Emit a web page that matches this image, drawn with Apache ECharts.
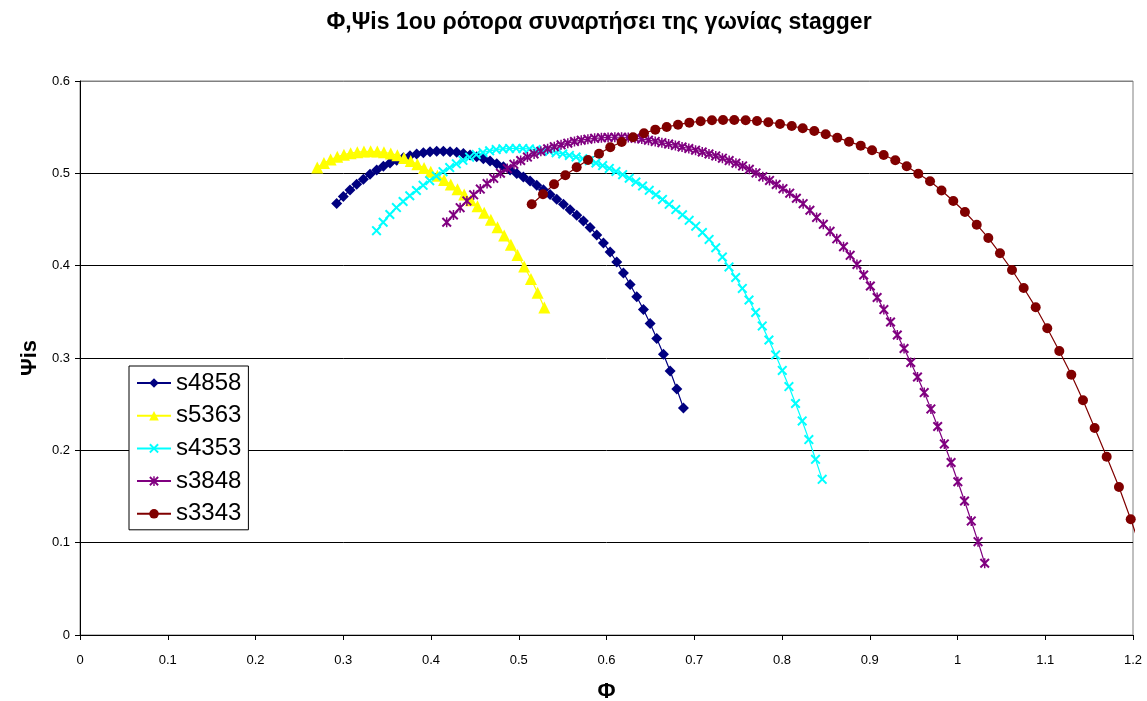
<!DOCTYPE html>
<html>
<head>
<meta charset="utf-8">
<script src="https://cdn.jsdelivr.net/npm/echarts@6/dist/echarts.min.js"></script>
<style>
  html, body { margin: 0; padding: 0; background: #ffffff; overflow: hidden; }
  #chart { width: 1147px; height: 701px; display: block; }
</style>
</head>
<body>
<div id="chart"></div>
<script>
// Stagger-angle sweep: Φ (flow coefficient) vs Ψis (isentropic head) of the 1st rotor
const seriesNames = ['s4858', 's5363', 's4353', 's3848', 's3343'];

const xTickLabels = ['0', '0.1', '0.2', '0.3', '0.4', '0.5', '0.6', '0.7', '0.8', '0.9', '1', '1.1', '1.2'];
const yTickLabels = ['0', '0.1', '0.2', '0.3', '0.4', '0.5', '0.6'];

const s4858Phi = [
  0.2925, 0.3001, 0.3077, 0.3153, 0.3229, 0.3305, 0.3381, 0.3457, 0.3533, 0.3609,
  0.3685, 0.3761, 0.3837, 0.3913, 0.3989, 0.4065, 0.4141, 0.4217, 0.4293, 0.4369,
  0.4445, 0.4521, 0.4597, 0.4673, 0.4749, 0.4825, 0.4901, 0.4977, 0.5053, 0.5129,
  0.5205, 0.5281, 0.5357, 0.5433, 0.5509, 0.5585, 0.5661, 0.5737, 0.5813, 0.5889,
  0.5965, 0.6041, 0.6117, 0.6193, 0.6269, 0.6345, 0.6421, 0.6497, 0.6573, 0.6649,
  0.6725, 0.6801, 0.6877
];
const s4858Psi = [
  0.4673, 0.4749, 0.4820, 0.4881, 0.4937, 0.4990, 0.5036, 0.5076, 0.5112, 0.5142,
  0.5168, 0.5191, 0.5210, 0.5224, 0.5233, 0.5239, 0.5239, 0.5235, 0.5227, 0.5214,
  0.5199, 0.5179, 0.5158, 0.5133, 0.5103, 0.5071, 0.5036, 0.4999, 0.4959, 0.4917,
  0.4872, 0.4823, 0.4772, 0.4719, 0.4664, 0.4606, 0.4547, 0.4484, 0.4414, 0.4332,
  0.4246, 0.4148, 0.4040, 0.3921, 0.3796, 0.3664, 0.3525, 0.3374, 0.3211, 0.3040,
  0.2859, 0.2664, 0.2459
];

const s5363Phi = [
  0.2704, 0.2780, 0.2856, 0.2932, 0.3008, 0.3084, 0.3160, 0.3236, 0.3312, 0.3388,
  0.3464, 0.3541, 0.3617, 0.3693, 0.3769, 0.3845, 0.3921, 0.3997, 0.4073, 0.4149,
  0.4225, 0.4302, 0.4378, 0.4454, 0.4530, 0.4606, 0.4682, 0.4758, 0.4834, 0.4910,
  0.4986, 0.5062, 0.5139, 0.5215, 0.5291
];
const s5363Psi = [
  0.5063, 0.5112, 0.5150, 0.5179, 0.5202, 0.5218, 0.5229, 0.5236, 0.5238, 0.5236,
  0.5228, 0.5215, 0.5197, 0.5166, 0.5134, 0.5098, 0.5058, 0.5017, 0.4973, 0.4927,
  0.4878, 0.4827, 0.4770, 0.4709, 0.4644, 0.4574, 0.4498, 0.4416, 0.4326, 0.4226,
  0.4116, 0.3991, 0.3856, 0.3707, 0.3547
];

const s4353Phi = [
  0.3379, 0.3455, 0.3531, 0.3606, 0.3682, 0.3758, 0.3834, 0.3910, 0.3985, 0.4061,
  0.4137, 0.4213, 0.4289, 0.4364, 0.4440, 0.4516, 0.4592, 0.4668, 0.4743, 0.4819,
  0.4895, 0.4971, 0.5047, 0.5122, 0.5198, 0.5274, 0.5350, 0.5426, 0.5501, 0.5577,
  0.5653, 0.5729, 0.5805, 0.5880, 0.5956, 0.6032, 0.6108, 0.6184, 0.6259, 0.6335,
  0.6411, 0.6487, 0.6563, 0.6638, 0.6714, 0.6790, 0.6866, 0.6942, 0.7017, 0.7093,
  0.7169, 0.7245, 0.7321, 0.7396, 0.7472, 0.7548, 0.7624, 0.7700, 0.7775, 0.7851,
  0.7927, 0.8003, 0.8079, 0.8154, 0.8230, 0.8306, 0.8382, 0.8458
];
const s4353Psi = [
  0.4379, 0.4470, 0.4554, 0.4629, 0.4695, 0.4757, 0.4814, 0.4870, 0.4921, 0.4971,
  0.5018, 0.5062, 0.5103, 0.5141, 0.5175, 0.5203, 0.5226, 0.5244, 0.5257, 0.5265,
  0.5269, 0.5270, 0.5268, 0.5264, 0.5257, 0.5248, 0.5237, 0.5224, 0.5210, 0.5194,
  0.5177, 0.5159, 0.5137, 0.5112, 0.5084, 0.5053, 0.5020, 0.4985, 0.4947, 0.4906,
  0.4863, 0.4816, 0.4768, 0.4717, 0.4664, 0.4608, 0.4551, 0.4491, 0.4428, 0.4359,
  0.4284, 0.4194, 0.4094, 0.3986, 0.3872, 0.3753, 0.3628, 0.3493, 0.3347, 0.3195,
  0.3033, 0.2865, 0.2691, 0.2507, 0.2318, 0.2117, 0.1903, 0.1686
];

const s3848Phi = [
  0.4179, 0.4256, 0.4332, 0.4409, 0.4486, 0.4562, 0.4639, 0.4715, 0.4792, 0.4869,
  0.4945, 0.5022, 0.5099, 0.5175, 0.5252, 0.5329, 0.5405, 0.5482, 0.5559, 0.5635,
  0.5712, 0.5788, 0.5865, 0.5942, 0.6018, 0.6095, 0.6172, 0.6248, 0.6325, 0.6402,
  0.6478, 0.6555, 0.6631, 0.6708, 0.6785, 0.6861, 0.6938, 0.7015, 0.7091, 0.7168,
  0.7245, 0.7321, 0.7398, 0.7475, 0.7551, 0.7628, 0.7704, 0.7781, 0.7858, 0.7934,
  0.8011, 0.8088, 0.8164, 0.8241, 0.8318, 0.8394, 0.8471, 0.8548, 0.8624, 0.8701,
  0.8777, 0.8854, 0.8931, 0.9007, 0.9084, 0.9161, 0.9237, 0.9314, 0.9391, 0.9467,
  0.9544, 0.9621, 0.9697, 0.9774, 0.9850, 0.9927, 1.0004, 1.0080, 1.0157, 1.0234,
  1.0310
];
const s3848Psi = [
  0.4470, 0.4549, 0.4628, 0.4701, 0.4767, 0.4830, 0.4889, 0.4946, 0.5001, 0.5051,
  0.5098, 0.5139, 0.5176, 0.5210, 0.5239, 0.5266, 0.5289, 0.5309, 0.5327, 0.5345,
  0.5359, 0.5370, 0.5379, 0.5385, 0.5389, 0.5391, 0.5391, 0.5388, 0.5381, 0.5371,
  0.5359, 0.5346, 0.5332, 0.5317, 0.5302, 0.5285, 0.5269, 0.5251, 0.5231, 0.5210,
  0.5188, 0.5164, 0.5138, 0.5110, 0.5080, 0.5043, 0.5004, 0.4964, 0.4923, 0.4879,
  0.4834, 0.4785, 0.4730, 0.4671, 0.4600, 0.4522, 0.4448, 0.4372, 0.4291, 0.4205,
  0.4112, 0.4013, 0.3899, 0.3780, 0.3655, 0.3525, 0.3390, 0.3249, 0.3103, 0.2951,
  0.2794, 0.2626, 0.2448, 0.2258, 0.2069, 0.1868, 0.1660, 0.1451, 0.1235, 0.1011,
  0.0777
];

const s3343Phi = [
  0.5148, 0.5276, 0.5402, 0.5531, 0.5660, 0.5789, 0.5915, 0.6043, 0.6173, 0.6302,
  0.6427, 0.6556, 0.6686, 0.6815, 0.6944, 0.7073, 0.7202, 0.7328, 0.7456, 0.7586,
  0.7715, 0.7844, 0.7977, 0.8111, 0.8236, 0.8368, 0.8498, 0.8630, 0.8764, 0.8897,
  0.9026, 0.9159, 0.9291, 0.9421, 0.9553, 0.9687, 0.9818, 0.9952, 1.0085, 1.0219,
  1.0351, 1.0484, 1.0621, 1.0754, 1.0891, 1.1023, 1.1160, 1.1297, 1.1430, 1.1563,
  1.1700, 1.1840, 1.1974, 1.2110
];
const s3343Psi = [
  0.4665, 0.4773, 0.4881, 0.4979, 0.5066, 0.5145, 0.5213, 0.5282, 0.5340, 0.5390,
  0.5434, 0.5473, 0.5502, 0.5527, 0.5549, 0.5564, 0.5575, 0.5578, 0.5578, 0.5575,
  0.5567, 0.5553, 0.5535, 0.5513, 0.5488, 0.5459, 0.5423, 0.5386, 0.5343, 0.5300,
  0.5250, 0.5199, 0.5141, 0.5076, 0.4996, 0.4914, 0.4814, 0.4701, 0.4581, 0.4444,
  0.4300, 0.4134, 0.3953, 0.3758, 0.3549, 0.3322, 0.3076, 0.2819, 0.2542, 0.2242,
  0.1931, 0.1603, 0.1253, 0.0880
];

const toPairs = (xs, ys) => xs.map((x, i) => [x, ys[i]]);

// marker shapes: diagonal cross and asterisk (cross + vertical bar)
const SYMBOL_CROSS = 'path://M0,1.4 L1.4,0 L5,3.6 L8.6,0 L10,1.4 L6.4,5 L10,8.6 L8.6,10 L5,6.4 L1.4,10 L0,8.6 L3.6,5 Z';
const SYMBOL_STAR = 'path://M0,1.4 L1.4,0 L5,3.6 L8.6,0 L10,1.4 L6.4,5 L10,8.6 L8.6,10 L5,6.4 L1.4,10 L0,8.6 L3.6,5 Z M4.25,0 L5.75,0 L5.75,10 L4.25,10 Z';

const FONT = 'Liberation Sans';

const seriesDefs = [
  { name: seriesNames[0], xs: s4858Phi, ys: s4858Psi, color: '#000080', symbol: 'diamond', size: 11 },
  { name: seriesNames[1], xs: s5363Phi, ys: s5363Psi, color: '#ffff00', symbol: 'triangle', size: 12 },
  { name: seriesNames[2], xs: s4353Phi, ys: s4353Psi, color: '#00ffff', symbol: SYMBOL_CROSS, size: 10 },
  { name: seriesNames[3], xs: s3848Phi, ys: s3848Psi, color: '#800080', symbol: SYMBOL_STAR, size: 10 },
  { name: seriesNames[4], xs: s3343Phi, ys: s3343Psi, color: '#800000', symbol: 'circle', size: 10 }
];

const chart = echarts.init(document.getElementById('chart'), null, { renderer: 'canvas' });

chart.setOption({
  animation: false,
  backgroundColor: '#ffffff',
  title: {
    text: 'Φ,Ψis 1ου ρότορα συναρτήσει της γωνίας stagger',
    left: 594,
    top: 6,
    textAlign: 'center',
    textStyle: { fontFamily: FONT, fontWeight: 'bold', fontSize: 23, color: '#000000' }
  },
  grid: {
    left: 80, top: 81, width: 1053, height: 554,
    outerBoundsMode: 'none',
    containLabel: false,
    show: true, borderColor: '#808080', borderWidth: 1, backgroundColor: '#ffffff'
  },
  legend: {
    orient: 'vertical',
    left: 129,
    top: 366,
    padding: [5, 7, 4, 7],
    itemGap: 8.7,
    itemWidth: 34,
    itemHeight: 12,
    backgroundColor: '#ffffff',
    borderColor: '#000000',
    borderWidth: 1,
    borderRadius: 0,
    textStyle: { fontFamily: FONT, fontSize: 24, lineHeight: 24, color: '#000000' },
    data: seriesNames
  },
  xAxis: {
    type: 'value',
    min: 0, max: 1.2, interval: 0.1,
    name: 'Φ',
    nameLocation: 'middle',
    nameGap: 46,
    nameTextStyle: { fontFamily: FONT, fontWeight: 'bold', fontSize: 22, color: '#000000' },
    axisLine: { show: true, onZero: false, lineStyle: { color: '#000000', width: 1 } },
    axisTick: { show: true, inside: false, length: 5, lineStyle: { color: '#000000' } },
    axisLabel: {
      margin: 19,
      fontFamily: FONT, fontSize: 13, color: '#000000',
      formatter: v => xTickLabels[Math.round(v * 10)]
    },
    splitLine: { show: false }
  },
  yAxis: {
    type: 'value',
    min: 0, max: 0.6, interval: 0.1,
    name: 'Ψis',
    nameLocation: 'middle',
    nameRotate: 90,
    nameGap: 38,
    nameTextStyle: { fontFamily: FONT, fontWeight: 'bold', fontSize: 22, color: '#000000' },
    axisLine: { show: true, onZero: false, lineStyle: { color: '#000000', width: 1 } },
    axisTick: { show: true, inside: false, length: 5, lineStyle: { color: '#000000' } },
    axisLabel: {
      margin: 10,
      fontFamily: FONT, fontSize: 13, color: '#000000',
      formatter: v => yTickLabels[Math.round(v * 10)]
    },
    splitLine: {
      show: true,
      lineStyle: { color: ['#000000', '#000000', '#000000', '#000000', '#000000', '#000000', '#808080'], width: 1 }
    }
  },
  series: seriesDefs.map(d => ({
    name: d.name,
    type: 'line',
    data: toPairs(d.xs, d.ys),
    symbol: d.symbol,
    symbolSize: d.size,
    showAllSymbol: true,
    clip: true,
    color: d.color,
    itemStyle: { color: d.color },
    lineStyle: { color: d.color, width: 1.2 },
    emphasis: { disabled: true }
  }))
});
</script>
</body>
</html>
